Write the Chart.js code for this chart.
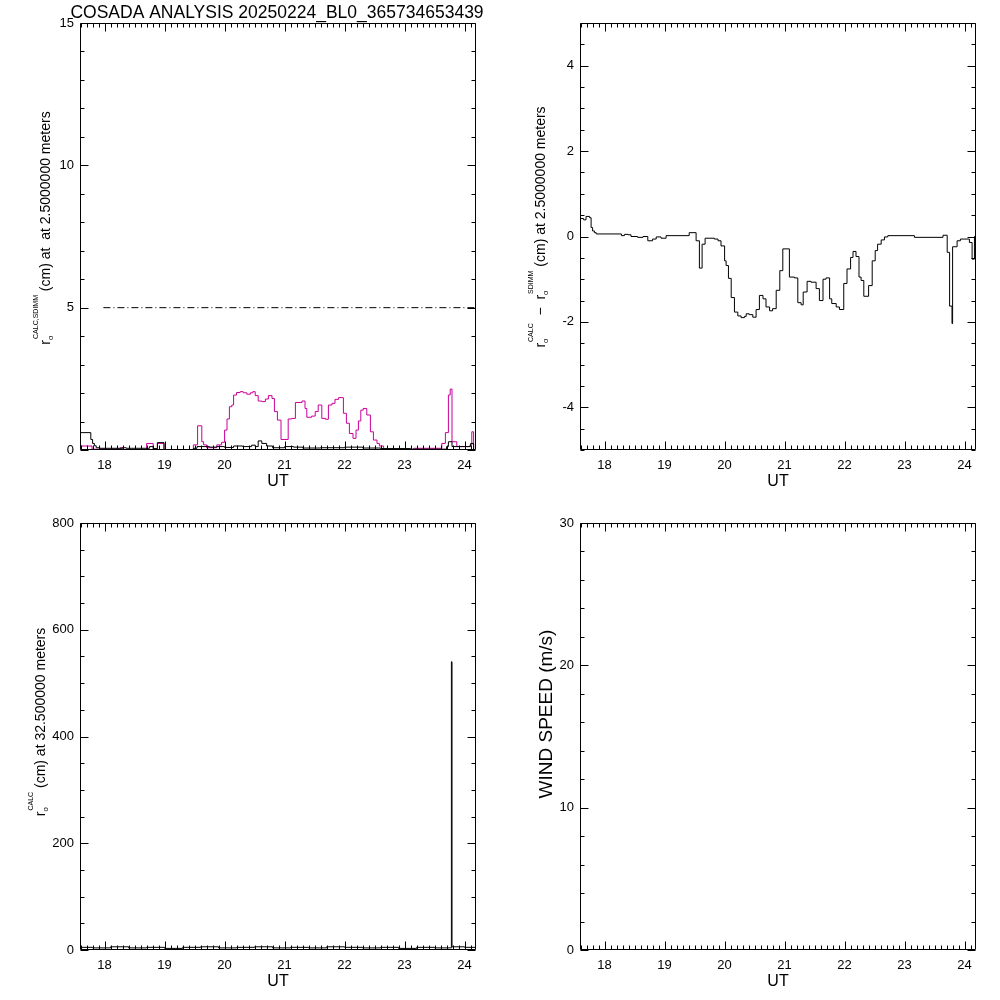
<!DOCTYPE html>
<html>
<head>
<meta charset="utf-8">
<script src="https://cdn.jsdelivr.net/npm/chart.js@4.4.1/dist/chart.umd.min.js"></script>
<style>
  html, body { margin: 0; padding: 0; background: #fff; }
  #wrap { position: relative; width: 1000px; height: 1000px; }
  canvas { position: absolute; }
</style>
</head>
<body>
<div id="wrap">
  <canvas id="pTL" width="500" height="500" style="left:0;top:0"></canvas>
  <canvas id="pTR" width="500" height="500" style="left:500px;top:0"></canvas>
  <canvas id="pBL" width="500" height="500" style="left:0;top:500px"></canvas>
  <canvas id="pBR" width="500" height="500" style="left:500px;top:500px"></canvas>
</div>
<script>
const FONT = '"Liberation Sans", Arial, sans-serif';
const TITLE = 'COSADA ANALYSIS 20250224_BL0_365734653439';

// ---- x axis (UT hours) ----
const utMin = 17.59, utMax = 24.19;
const utTicks = [18, 19, 20, 21, 22, 23, 24];

// ---- top left: r0 calc / sdimm at 2.5 m ----
const calcTime = [17.59, 17.77, 17.80, 17.83, 17.86, 17.92, 18.30, 18.36, 18.75, 18.81,
  18.88, 18.99, 19.48, 19.54, 19.75, 19.87, 20.00, 20.15, 20.30, 20.45,
  20.51, 20.56, 20.62, 20.70, 20.80, 21.00, 21.15, 21.30, 21.60, 22.00,
  22.30, 22.60, 23.10, 23.70, 23.73, 23.79, 24.10, 24.15];
const calcR0 = [0.61, 0.37, 0.23, 0.15, 0.08, 0.06, 0.08, 0.06, 0.12, 0.05,
  0.26, 0.0, 0.06, 0.12, 0.10, 0.12, 0.09, 0.14, 0.12, 0.17,
  0.12, 0.32, 0.23, 0.14, 0.08, 0.12, 0.10, 0.07, 0.08, 0.10,
  0.07, 0.05, 0.03, 0.12, 0.29, 0.12, 0.23, 0.0];

const sdimmTime = [17.59, 17.79, 18.26, 18.31, 18.70, 18.81, 18.88, 18.99, 19.48, 19.55,
  19.62, 19.65, 19.70, 19.87, 19.95, 20.00, 20.04, 20.08, 20.12, 20.15,
  20.20, 20.26, 20.31, 20.37, 20.43, 20.47, 20.51, 20.56, 20.62, 20.68,
  20.73, 20.79, 20.83, 20.88, 20.94, 21.06, 21.12, 21.18, 21.29, 21.34,
  21.37, 21.45, 21.51, 21.56, 21.62, 21.68, 21.73, 21.79, 21.84, 21.90,
  21.98, 22.03, 22.08, 22.14, 22.19, 22.23, 22.27, 22.31, 22.37, 22.43,
  22.48, 22.54, 22.58, 22.65, 23.15, 23.62, 23.68, 23.73, 23.76, 23.79,
  23.87, 24.09, 24.12, 24.15];
const sdimmR0 = [0.14, 0.03, 0.08, 0.0, 0.23, 0.0, 0.23, 0.0, 0.18, 0.85,
  0.29, 0.18, 0.08, 0.18, 0.27, 0.70, 1.09, 1.52, 1.58, 1.93,
  2.02, 2.05, 2.01, 1.96, 2.01, 2.05, 1.91, 1.72, 1.70, 1.79,
  1.91, 1.81, 1.35, 1.05, 0.37, 1.09, 1.11, 1.67, 1.72, 1.46,
  1.15, 1.19, 1.35, 1.58, 1.11, 1.08, 1.58, 1.64, 1.78, 1.84,
  1.29, 0.94, 0.58, 0.41, 0.70, 1.02, 1.40, 1.46, 1.23, 0.64,
  0.35, 0.23, 0.14, 0.0, 0.06, 0.23, 0.61, 1.93, 2.14, 0.29,
  0.12, 0.18, 0.64, 0.0];
const refLevel = 5;
const refFrom = 17.98;
const tlTicks = [0, 5, 10, 15];

// ---- top right: calc - sdimm ----
const diffTime = [17.59, 17.65, 17.69, 17.75, 17.775, 17.80, 17.83, 17.86, 18.28, 18.33,
  18.39, 18.44, 18.55, 18.64, 18.72, 18.80, 18.86, 18.94, 19.025, 19.41,
  19.525, 19.58, 19.625, 19.675, 19.83, 19.89, 19.94, 20.0, 20.025, 20.064,
  20.11, 20.164, 20.22, 20.275, 20.33, 20.36, 20.41, 20.47, 20.525, 20.58,
  20.64, 20.69, 20.75, 20.80, 20.86, 20.92, 20.97, 21.08, 21.164, 21.22,
  21.275, 21.31, 21.375, 21.44, 21.525, 21.58, 21.64, 21.69, 21.75, 21.786,
  21.86, 21.914, 21.986, 22.04, 22.10, 22.14, 22.19, 22.24, 22.275, 22.32,
  22.40, 22.46, 22.51, 22.55, 22.61, 22.664, 22.72, 23.164, 23.64, 23.71,
  23.75, 23.79, 23.80, 23.875, 23.93, 24.08, 24.125, 24.164, 24.19];
const diffR0 = [0.42, 0.39, 0.47, 0.44, 0.21, 0.13, 0.09, 0.06, 0.02, 0.05,
  0.04, 0.0, -0.02, 0.0, -0.1, -0.06, -0.01, -0.04, 0.02, 0.09,
  -0.1, -0.74, -0.18, -0.04, -0.06, -0.1, -0.22, -0.57, -0.68, -0.98,
  -1.43, -1.77, -1.86, -1.90, -1.87, -1.81, -1.83, -1.89, -1.71, -1.38,
  -1.46, -1.65, -1.74, -1.69, -1.26, -0.80, -0.29, -0.95, -0.97, -1.55,
  -1.60, -1.30, -1.05, -1.07, -1.22, -1.50, -1.0, -0.97, -1.46, -1.57,
  -1.65, -1.71, -1.1, -0.76, -0.49, -0.35, -0.47, -0.95, -1.03, -1.40,
  -1.15, -0.57, -0.33, -0.18, -0.08, -0.01, 0.02, -0.02, 0.03, -0.37,
  -1.63, -2.04, -0.24, -0.10, -0.06, -0.14, -0.53, 0.0, 0.0];
const trTicks = [-4, -2, 0, 2, 4];

// ---- bottom left: r0 calc at 32.5 m ----
const highTime = [17.59, 17.8, 18.1, 18.4, 18.7, 19.0, 19.3, 19.6, 19.9, 20.2,
  20.5, 20.8, 21.1, 21.4, 21.7, 22.0, 22.3, 22.6, 22.9, 23.2,
  23.5, 23.78, 23.79, 24.0, 24.19];
const highR0 = [5, 4, 6, 4, 5, 3, 5, 6, 4, 5,
  6, 4, 5, 4, 6, 5, 4, 5, 3, 5,
  4, 540, 6, 5, 4];
const blTicks = [0, 200, 400, 600, 800];

// ---- bottom right: wind speed (no data) ----
const windTime = [];
const windSpeed = [];
const brTicks = [0, 10, 20, 30];

const pts = (t, v) => t.map((x, i) => ({ x, y: v[i] }));

// frame + inward ticks on all four sides, IDL style
const boxTicks = {
  id: 'boxTicks',
  afterDraw(chart, args, o) {
    const { ctx, chartArea: a } = chart;
    const xs = chart.scales.x, ys = chart.scales.y;
    const L = Math.round(a.left) + 0.5, R = Math.round(a.right) - 0.5;
    const T = Math.round(a.top) + 0.5, B = Math.round(a.bottom) - 0.5;
    ctx.save();
    ctx.strokeStyle = '#000';
    ctx.lineWidth = 1;
    ctx.beginPath();
    ctx.rect(L, T, R - L, B - T);
    for (let k = Math.ceil(xs.min / o.xMinor - 1e-6); k * o.xMinor <= xs.max + 1e-9; k++) {
      const v = k * o.xMinor;
      const major = Math.abs(v - Math.round(v / o.xMajor) * o.xMajor) < 1e-6;
      const len = major ? 8 : 4;
      const p = Math.round(xs.getPixelForValue(v)) + 0.5;
      ctx.moveTo(p, B); ctx.lineTo(p, B - len);
      ctx.moveTo(p, T); ctx.lineTo(p, T + len);
    }
    for (let k = Math.ceil(ys.min / o.yMinor - 1e-6); k * o.yMinor <= ys.max + 1e-9; k++) {
      const v = k * o.yMinor;
      const major = Math.abs(v - Math.round(v / o.yMajor) * o.yMajor) < 1e-6;
      const len = major ? 8 : 4;
      const p = Math.round(ys.getPixelForValue(v)) + 0.5;
      ctx.moveTo(L, p); ctx.lineTo(L + len, p);
      ctx.moveTo(R, p); ctx.lineTo(R - len, p);
    }
    ctx.stroke();
    ctx.restore();
  }
};

// rotated y title with sub/superscripts, plus the page title
const richTitle = {
  id: 'richTitle',
  afterDraw(chart, args, o) {
    const ctx = chart.ctx;
    const size = o.size;
    const norm = size + 'px ' + FONT;
    const small = Math.round(size * 0.5) + 'px ' + FONT;
    const sub = Math.round(size * 0.6) + 'px ' + FONT;
    ctx.save();
    ctx.fillStyle = '#000';
    const w = o.parts.map(p => {
      if (typeof p === 'string') { ctx.font = norm; return ctx.measureText(p).width; }
      ctx.font = sub; const a = ctx.measureText(p[0]).width;
      ctx.font = small; const b = ctx.measureText(p[1]).width;
      return Math.max(a, b) + 1;
    });
    const total = w.reduce((s, v) => s + v, 0);
    ctx.translate(o.x, o.y);
    ctx.rotate(-Math.PI / 2);
    ctx.textAlign = 'left';
    ctx.textBaseline = 'alphabetic';
    let cx = -total / 2;
    o.parts.forEach((p, i) => {
      if (typeof p === 'string') {
        ctx.font = norm; ctx.fillText(p, cx, 0);
      } else {
        ctx.font = sub; ctx.fillText(p[0], cx, size * 0.2);
        ctx.font = small; ctx.fillText(p[1], cx + 1, -size * 0.85);
      }
      cx += w[i];
    });
    ctx.restore();
    if (o.title) {
      ctx.save();
      ctx.fillStyle = '#000';
      ctx.font = '17.5px ' + FONT;
      ctx.textAlign = 'center';
      ctx.textBaseline = 'middle';
      ctx.fillText(o.title, 277, 13);
      ctx.restore();
    }
  }
};

function panel(id, o) {
  return new Chart(document.getElementById(id), {
    type: 'line',
    data: { datasets: o.datasets },
    options: {
      responsive: false,
      animation: false,
      devicePixelRatio: 1,
      layout: { padding: { top: 23, right: 24, left: 0, bottom: 0 } },
      elements: { point: { radius: 0 }, line: { borderWidth: 1, tension: 0 } },
      plugins: {
        legend: { display: false },
        tooltip: { enabled: false },
        boxTicks: { xMajor: 1, xMinor: 0.1, yMajor: o.yMajor, yMinor: o.yMinor },
        richTitle: o.title
      },
      scales: {
        x: {
          type: 'linear', min: utMin, max: utMax,
          afterBuildTicks: s => { s.ticks = utTicks.map(v => ({ value: v })); },
          afterFit: s => { s.height = 50; },
          grid: { display: false, drawTicks: false, tickLength: 0 }, border: { display: false },
          ticks: { color: '#000', font: { family: FONT, size: 13 }, padding: 8, maxRotation: 0, autoSkip: false },
          title: { display: true, text: 'UT', color: '#000', font: { family: FONT, size: 16 }, padding: { top: 0, bottom: 9 } }
        },
        y: {
          type: 'linear', min: o.yMin, max: o.yMax,
          afterBuildTicks: s => { s.ticks = o.yTicks.map(v => ({ value: v })); },
          afterFit: s => { s.width = 80; },
          grid: { display: false, drawTicks: false, tickLength: 0 }, border: { display: false },
          ticks: { color: '#000', font: { family: FONT, size: 13 }, padding: 6, autoSkip: false }
        }
      }
    },
    plugins: [boxTicks, richTitle]
  });
}

const black = { borderColor: '#000', stepped: true, fill: false };

panel('pTL', {
  yMin: 0, yMax: 15, yTicks: tlTicks, yMajor: 5, yMinor: 1,
  datasets: [
    Object.assign({ data: pts(calcTime, calcR0) }, black),
    { data: pts(sdimmTime, sdimmR0), borderColor: '#c8009c', stepped: true, fill: false },
    { data: pts([refFrom, utMax], [refLevel, refLevel]), borderColor: '#000', borderDash: [7, 3, 1, 3] }
  ],
  title: { x: 50, y: 228, size: 14, title: TITLE,
    parts: ['r', ['o', 'CALC,SDIMM'], ' (cm) at  at 2.5000000 meters'] }
});

panel('pTR', {
  yMin: -5, yMax: 5, yTicks: trTicks, yMajor: 2, yMinor: 0.5,
  datasets: [Object.assign({ data: pts(diffTime, diffR0) }, black)],
  title: { x: 45, y: 227, size: 14,
    parts: ['r', ['o', 'CALC'], '  \u2212  r', ['o', 'SDIMM'], ' (cm) at 2.5000000 meters'] }
});

panel('pBL', {
  yMin: 0, yMax: 800, yTicks: blTicks, yMajor: 200, yMinor: 50,
  datasets: [Object.assign({ data: pts(highTime, highR0) }, black)],
  title: { x: 45, y: 222, size: 14,
    parts: ['r', ['o', 'CALC'], ' (cm) at 32.500000 meters'] }
});

panel('pBR', {
  yMin: 0, yMax: 30, yTicks: brTicks, yMajor: 10, yMinor: 2,
  datasets: [Object.assign({ data: pts(windTime, windSpeed) }, black)],
  title: { x: 52, y: 214, size: 19, parts: ['WIND SPEED (m/s)'] }
});
</script>
</body>
</html>
